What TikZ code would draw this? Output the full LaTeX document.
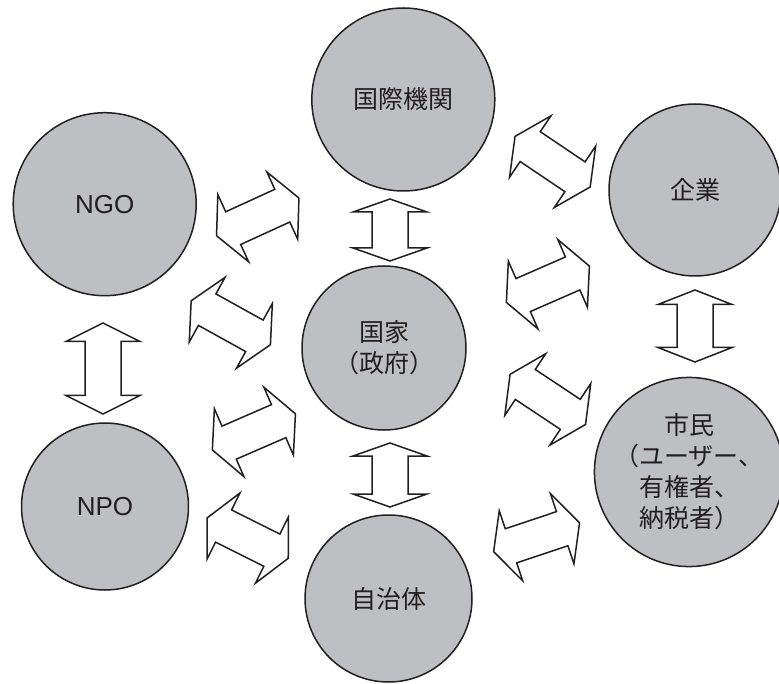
\documentclass[tikz,border=0pt]{standalone}
\usepackage{fontspec}
\setmainfont{Liberation Sans}
\newfontfamily\jp{Noto Sans CJK JP}
\definecolor{circfill}{RGB}{190,191,195}
\definecolor{ink}{RGB}{35,31,32}
\begin{document}
\begin{tikzpicture}[x=1pt,y=-1pt,
  circ/.style={circle, draw=ink, line width=1.5pt, fill=circfill, inner sep=0pt,
    align=center, text=ink, font={\jp\fontsize{25}{31}\selectfont}},
  latin/.style={font={\fontsize{26}{31}\selectfont}},
  arrowline/.style={draw=ink, fill=white, line width=1.5pt, line join=miter},
  pics/blockarrow/.style 2 args={code={
    \draw[arrowline] (-#1,0) -- ({-#1+#2},-37) -- ({-#1+#2},-18) -- ({#1-#2},-18)
      -- ({#1-#2},-37) -- (#1,0) -- ({#1-#2},37) -- ({#1-#2},18)
      -- ({-#1+#2},18) -- ({-#1+#2},37) -- cycle;
  }}
]
\useasboundingbox (0,0) rectangle (779,684);

% circles
\node[circ, minimum size=183pt] (kokusai) at (403.3,99.5) {国際機関};
\node[circ, latin, minimum size=183pt] (ngo) at (104.7,204.2) {NGO};
\node[circ, minimum size=172pt] (kigyo) at (695,190) {企業};
\node[circ, minimum size=164pt] (kokka) at (384,348) {国家\\（政府）};
\node[circ, minimum size=186pt] (shimin) at (689,472) {市民\\（ユーザー、\\有権者、\\納税者）};
\node[circ, latin, minimum size=167pt] (npo) at (105,506.5) {NPO};
\node[circ, minimum size=167pt] (jichitai) at (388.5,598.5) {自治体};

% diagonal double block arrows
\pic[rotate=24.6]  at (257.75,216.9) {blockarrow={45.3}{18.3}};
\pic[rotate=-34]   at (552.6,161.7)  {blockarrow={45.3}{18.3}};
\pic[rotate=-29]   at (230.8,322.75) {blockarrow={45.3}{18.3}};
\pic[rotate=23.5]  at (253.9,431.9)  {blockarrow={45.3}{18.3}};
\pic[rotate=-26.5] at (247.7,538.1)  {blockarrow={45.3}{18.3}};
\pic[rotate=23.6]  at (547.9,284.25) {blockarrow={45.3}{18.3}};
\pic[rotate=-33.6] at (547.8,399.4)  {blockarrow={45.3}{18.3}};
\pic[rotate=18.5]  at (536.6,537.25) {blockarrow={45.3}{18.3}};

% vertical double block arrows
\pic[rotate=90] at (390,230)   {blockarrow={31}{13}};
\pic[rotate=90] at (390,475)   {blockarrow={32}{13}};
\pic[rotate=90] at (103,368.5) {blockarrow={45.5}{18.5}};
\pic[rotate=90] at (695,326)   {blockarrow={36}{14.5}};
\end{tikzpicture}
\end{document}
